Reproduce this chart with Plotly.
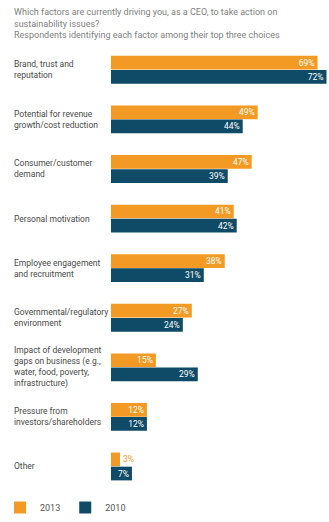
import plotly.graph_objects as go

# survey data
factors = [
    "Brand, trust and<br>reputation",
    "Potential for revenue<br>growth/cost reduction",
    "Consumer/customer<br>demand",
    "Personal motivation",
    "Employee engagement<br>and recruitment",
    "Governmental/regulatory<br>environment",
    "Impact of development<br>gaps on business (e.g.,<br>water, food, poverty,<br>infrastructure)",
    "Pressure from<br>investors/shareholders",
    "Other",
]
vals_2013 = [69, 49, 47, 41, 38, 27, 15, 12, 3]
vals_2010 = [72, 44, 39, 42, 31, 24, 29, 12, 7]

ORANGE = "#F29A23"
NAVY = "#0F4A66"
FONT = "Roboto, sans-serif"

cats = list(range(len(factors)))

fig = go.Figure()
fig.add_trace(go.Bar(
    y=cats, x=vals_2013, name="2013", orientation="h",
    marker=dict(color=ORANGE, line=dict(width=0)),
    texttemplate="%{x}%",
    textposition=["inside"] * 8 + ["outside"],
    insidetextanchor="end",
    textfont=dict(color=["white"] * 8 + [ORANGE], size=8.5, family=FONT),
))
fig.add_trace(go.Bar(
    y=cats, x=vals_2010, name="2010", orientation="h",
    marker=dict(color=NAVY, line=dict(width=0)),
    texttemplate="%{x}%",
    textposition="inside",
    insidetextanchor="end",
    textfont=dict(color="white", size=8.5, family=FONT),
))

# left aligned category labels
for i, lab in enumerate(factors):
    fig.add_annotation(
        x=-0.458, xref="paper", y=i, yref="y",
        text=lab, showarrow=False, xanchor="left", align="left",
        yanchor="middle", font=dict(size=8.5, color="#4a4a4a", family=FONT),
    )

fig.add_annotation(
    x=-0.458, xref="paper", y=1, yref="paper", yshift=3,
    text=("Which factors are currently driving you, as a CEO, to take action on<br>"
          "sustainability issues?<br>"
          "Respondents identifying each factor among their top three choices"),
    showarrow=False, xanchor="left", yanchor="bottom", align="left",
    font=dict(size=9, color="#808080", family=FONT),
)

fig.update_layout(
    width=329, height=522,
    margin=dict(l=111, r=1, t=45, b=0),
    barmode="group", bargap=0.43, bargroupgap=0.03,
    plot_bgcolor="white", paper_bgcolor="white",
    xaxis=dict(range=[0, 72.5], visible=False),
    # plot area runs to the bottom edge; the legend sits in the empty strip below "Other"
    yaxis=dict(range=[9.12, -0.5], showticklabels=False, showgrid=False,
               zeroline=False, tickvals=cats),
    legend=dict(orientation="h", x=-0.515, xanchor="left", y=0,
                yanchor="bottom", font=dict(size=9, color="#555", family=FONT),
                bgcolor="rgba(0,0,0,0)", itemwidth=30),
    uniformtext=dict(minsize=7, mode="show"),
    showlegend=True,
)

# drop the default page margin so the figure sits at the window's corner
fig.write_html("out.html", config={"displayModeBar": False},
               post_script="document.body.style.margin='0';")
